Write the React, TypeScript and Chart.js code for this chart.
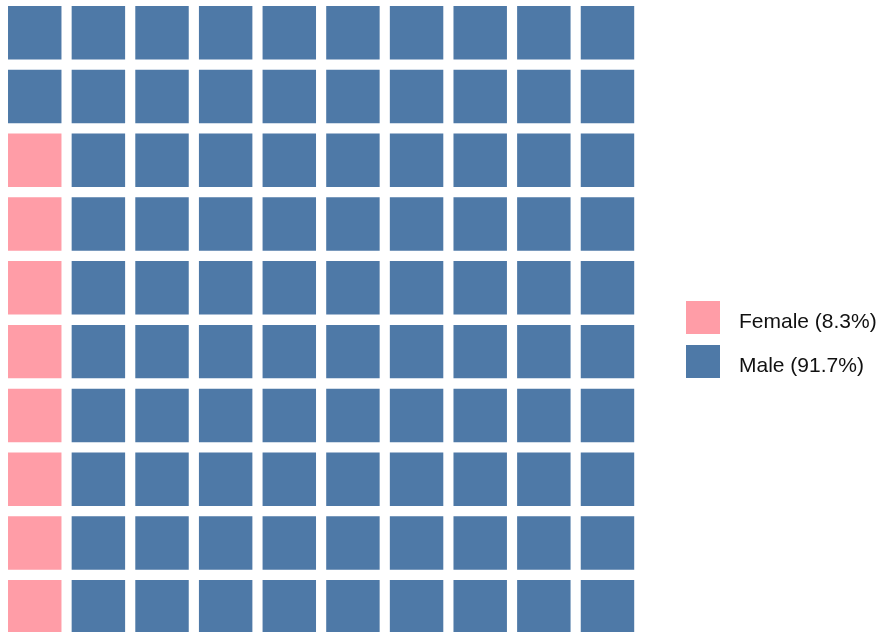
import React, { useEffect, useRef } from "react";
import { Chart, registerables } from "chart.js";

Chart.register(...registerables);

const categories = ["Female", "Male"];
const percentages = [8.3, 91.7];
const gridCols = 10;
const gridRows = 10;
const palette = ["#FF9DA7", "#4E79A7"];

function buildCells() {
  const total = gridCols * gridRows;
  const counts = percentages.map((p) => Math.round((p / 100) * total));
  const diff = total - counts.reduce((a, b) => a + b, 0);
  counts[counts.length - 1] += diff;
  const perCat: { x: number; y: number }[][] = categories.map(() => []);
  let idx = 0;
  counts.forEach((c, ci) => {
    for (let k = 0; k < c; k++) {
      const col = Math.floor(idx / gridRows);
      const row = idx % gridRows;
      perCat[ci].push({ x: col, y: row });
      idx++;
    }
  });
  return perCat;
}

const legendPlugin = {
  id: "waffleLegend",
  afterDraw(chart: any) {
    const ctx = chart.ctx;
    ctx.save();
    const boxX = 686;
    const boxW = 34;
    const boxH = 33;
    const top0 = 301;
    const step = 44;
    ctx.font = '21px "Liberation Sans", Arial, sans-serif';
    ctx.textBaseline = "alphabetic";
    ctx.textAlign = "left";
    categories.forEach((cat, i) => {
      const y = top0 + i * step;
      ctx.fillStyle = palette[i];
      ctx.fillRect(boxX, y, boxW, boxH);
      ctx.fillStyle = "#111111";
      ctx.fillText(`${cat} (${percentages[i]}%)`, 739, y + 26.8);
    });
    ctx.restore();
  },
};

export default function App() {
  const ref = useRef<HTMLCanvasElement | null>(null);
  useEffect(() => {
    if (!ref.current) return;
    const cells = buildCells();
    const radiusFn = (c: any) => {
      const xs = c.chart.scales.x;
      if (!xs) return 30;
      const pitch = Math.abs(xs.getPixelForValue(1) - xs.getPixelForValue(0));
      return (pitch * 0.84) / Math.SQRT2;
    };
    const chart = new Chart(ref.current, {
      type: "scatter",
      data: {
        datasets: categories.map((cat, i) => ({
          label: `${cat} (${percentages[i]}%)`,
          data: cells[i],
          backgroundColor: palette[i],
          borderColor: palette[i],
          borderWidth: 0,
          pointStyle: "rect",
          pointRadius: radiusFn,
          pointHoverRadius: radiusFn,
          clip: false as any,
        })),
      },
      options: {
        animation: false,
        responsive: true,
        maintainAspectRatio: false,
        events: [],
        layout: { padding: { left: 0, top: 0, bottom: 0, right: 245 } },
        scales: {
          x: { type: "linear", min: -0.546, max: 9.511, display: false },
          y: { type: "linear", min: -0.396, max: 9.513, display: false },
        },
        plugins: {
          legend: { display: false },
          tooltip: { enabled: false },
        },
      },
      plugins: [legendPlugin],
    });
    return () => chart.destroy();
  }, []);
  return (
    <div
      style={{
        position: "fixed",
        left: 0,
        top: 0,
        width: 885,
        height: 632,
        background: "#ffffff",
      }}
    >
      <canvas ref={ref} />
    </div>
  );
}
